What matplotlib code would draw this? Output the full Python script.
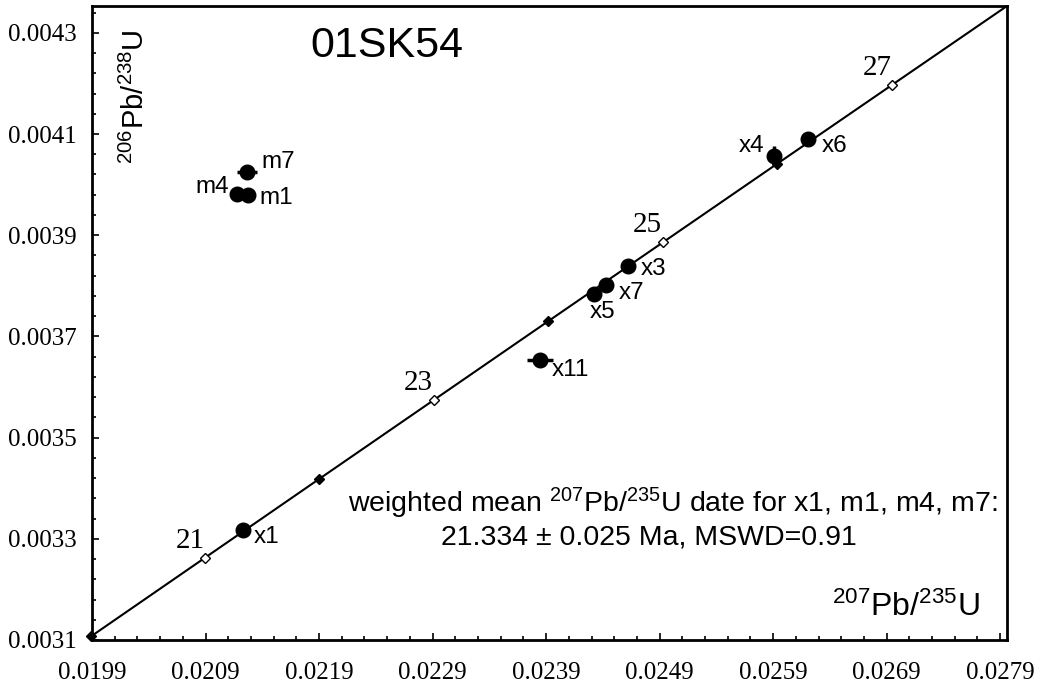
import numpy as np
import matplotlib.pyplot as plt
from matplotlib.ticker import FixedLocator, AutoMinorLocator, FormatStrFormatter

plt.rcParams['mathtext.fontset'] = 'custom'
plt.rcParams['mathtext.rm'] = 'Liberation Sans'
plt.rcParams['mathtext.it'] = 'Liberation Sans:italic'

# decay constants, 1/yr
l238 = 1.55125e-10
l235 = 9.8485e-10

sample = '01SK54'

# zircon fractions
names = ['x1', 'm1', 'm4', 'm7', 'x11', 'x5', 'x7', 'x3', 'x4', 'x6']
pb207_u235 = [0.02123, 0.021274, 0.021178, 0.021266, 0.023847,
              0.024323, 0.024429, 0.024622, 0.025909, 0.026208]
pb206_u238 = [0.003317, 0.003980, 0.003982, 0.004024, 0.003653,
              0.003783, 0.003801, 0.003840, 0.004057, 0.004091]
err_207 = [0.00003, 0.00003, 0.00006, 0.00009, 0.000115,
           0.00003, 0.00003, 0.00003, 0.00003, 0.00003]
err_206 = [0.000005, 0.000005, 0.000005, 0.000005, 0.000005,
           0.000005, 0.000005, 0.000005, 0.00002, 0.000005]

ages = [20, 21, 22, 23, 24, 25, 26, 27]   # Ma, ticks on concordia
age_labels = ['21', '23', '25', '27']

x_ticks = [0.0199, 0.0209, 0.0219, 0.0229, 0.0239, 0.0249, 0.0259, 0.0269, 0.0279]
y_ticks = [0.0031, 0.0033, 0.0035, 0.0037, 0.0039, 0.0041, 0.0043]

wm_line1 = 'weighted mean $^{207}$Pb/$^{235}$U date for x1, m1, m4, m7:'
wm_line2 = '21.334 ± 0.025 Ma, MSWD=0.91'

# label offsets in pixels (dx right, dy down)
lab_off = {'x1': (24, 7), 'm1': (28, 3), 'm4': (-25, -7), 'm7': (31, -10),
           'x11': (30, 10), 'x5': (8, 18), 'x7': (25, 8), 'x3': (25, 3),
           'x4': (-23, -10), 'x6': (26, 7)}

fig = plt.figure(figsize=(10.43, 6.88), dpi=100)
ax = fig.add_axes([92/1043, 48/688, 915/1043, 634/688])

# concordia curve
t = np.linspace(19.9, 28.2, 500) * 1e6
ax.plot(np.exp(l235*t) - 1, np.exp(l238*t) - 1, color='black', lw=1.5, zorder=2)

ta = np.array(ages) * 1e6
cx = np.exp(l235*ta) - 1
cy = np.exp(l238*ta) - 1
for a, xx, yy in zip(ages, cx, cy):
    face = 'white' if a % 2 else 'black'
    ax.plot(xx, yy, 'D', ms=5, mfc=face, mec='black', mew=1.0, zorder=4, clip_on=False)
    if str(a) in age_labels:
        ax.annotate(str(a), (xx, yy), xytext=(-15*0.72, 17*0.72), textcoords='offset points',
                    ha='center', va='center', fontsize=21, family='Liberation Serif')

ax.errorbar(pb207_u235, pb206_u238, xerr=err_207, yerr=err_206, fmt='o', ms=10.5,
            color='black', ecolor='black', elinewidth=2.5, capsize=0, zorder=3)
for n, xx, yy in zip(names, pb207_u235, pb206_u238):
    dx, dy = lab_off[n]
    ax.annotate(n, (xx, yy), xytext=(dx*0.72, -dy*0.72), textcoords='offset points',
                ha='center', va='center', fontsize=17.5, family='Liberation Sans')

ax.set_xlim(0.0199, 0.02796)
ax.set_ylim(0.0031, 0.004353)
ax.xaxis.set_major_locator(FixedLocator(x_ticks))
ax.yaxis.set_major_locator(FixedLocator(y_ticks))
ax.xaxis.set_minor_locator(AutoMinorLocator(5))
ax.yaxis.set_minor_locator(AutoMinorLocator(5))
ax.xaxis.set_major_formatter(FormatStrFormatter('%.4f'))
ax.yaxis.set_major_formatter(FormatStrFormatter('%.4f'))
ax.tick_params(which='both', direction='in', width=1.2, labelsize=18)
ax.tick_params(which='major', length=5)
ax.tick_params(which='minor', length=3)
ax.tick_params(axis='x', pad=16)
ax.tick_params(axis='y', pad=11)
for lab in ax.get_xticklabels() + ax.get_yticklabels():
    lab.set_family('Liberation Serif')
for s in ax.spines.values():
    s.set_linewidth(2)

ax.text(0.3224, 0.937, sample, transform=ax.transAxes, ha='center', va='center',
        fontsize=31, family='Liberation Sans')
ax.text(0.047, 0.857, '$^{206}$Pb/$^{238}$U', transform=ax.transAxes, rotation=90,
        ha='center', va='center', fontsize=21, family='Liberation Sans')
ax.text(0.8896, 0.052, '$^{207}$Pb/$^{235}$U', transform=ax.transAxes,
        ha='center', va='center', fontsize=23, family='Liberation Sans')
ax.text((348-92)/915, (640-503)/634, wm_line1, transform=ax.transAxes,
        ha='left', va='center', fontsize=20.5, family='Liberation Sans')
ax.text((441-92)/915, (640-538)/634, wm_line2, transform=ax.transAxes,
        ha='left', va='center', fontsize=20.5, family='Liberation Sans')

fig.savefig('out.png', dpi=100)
